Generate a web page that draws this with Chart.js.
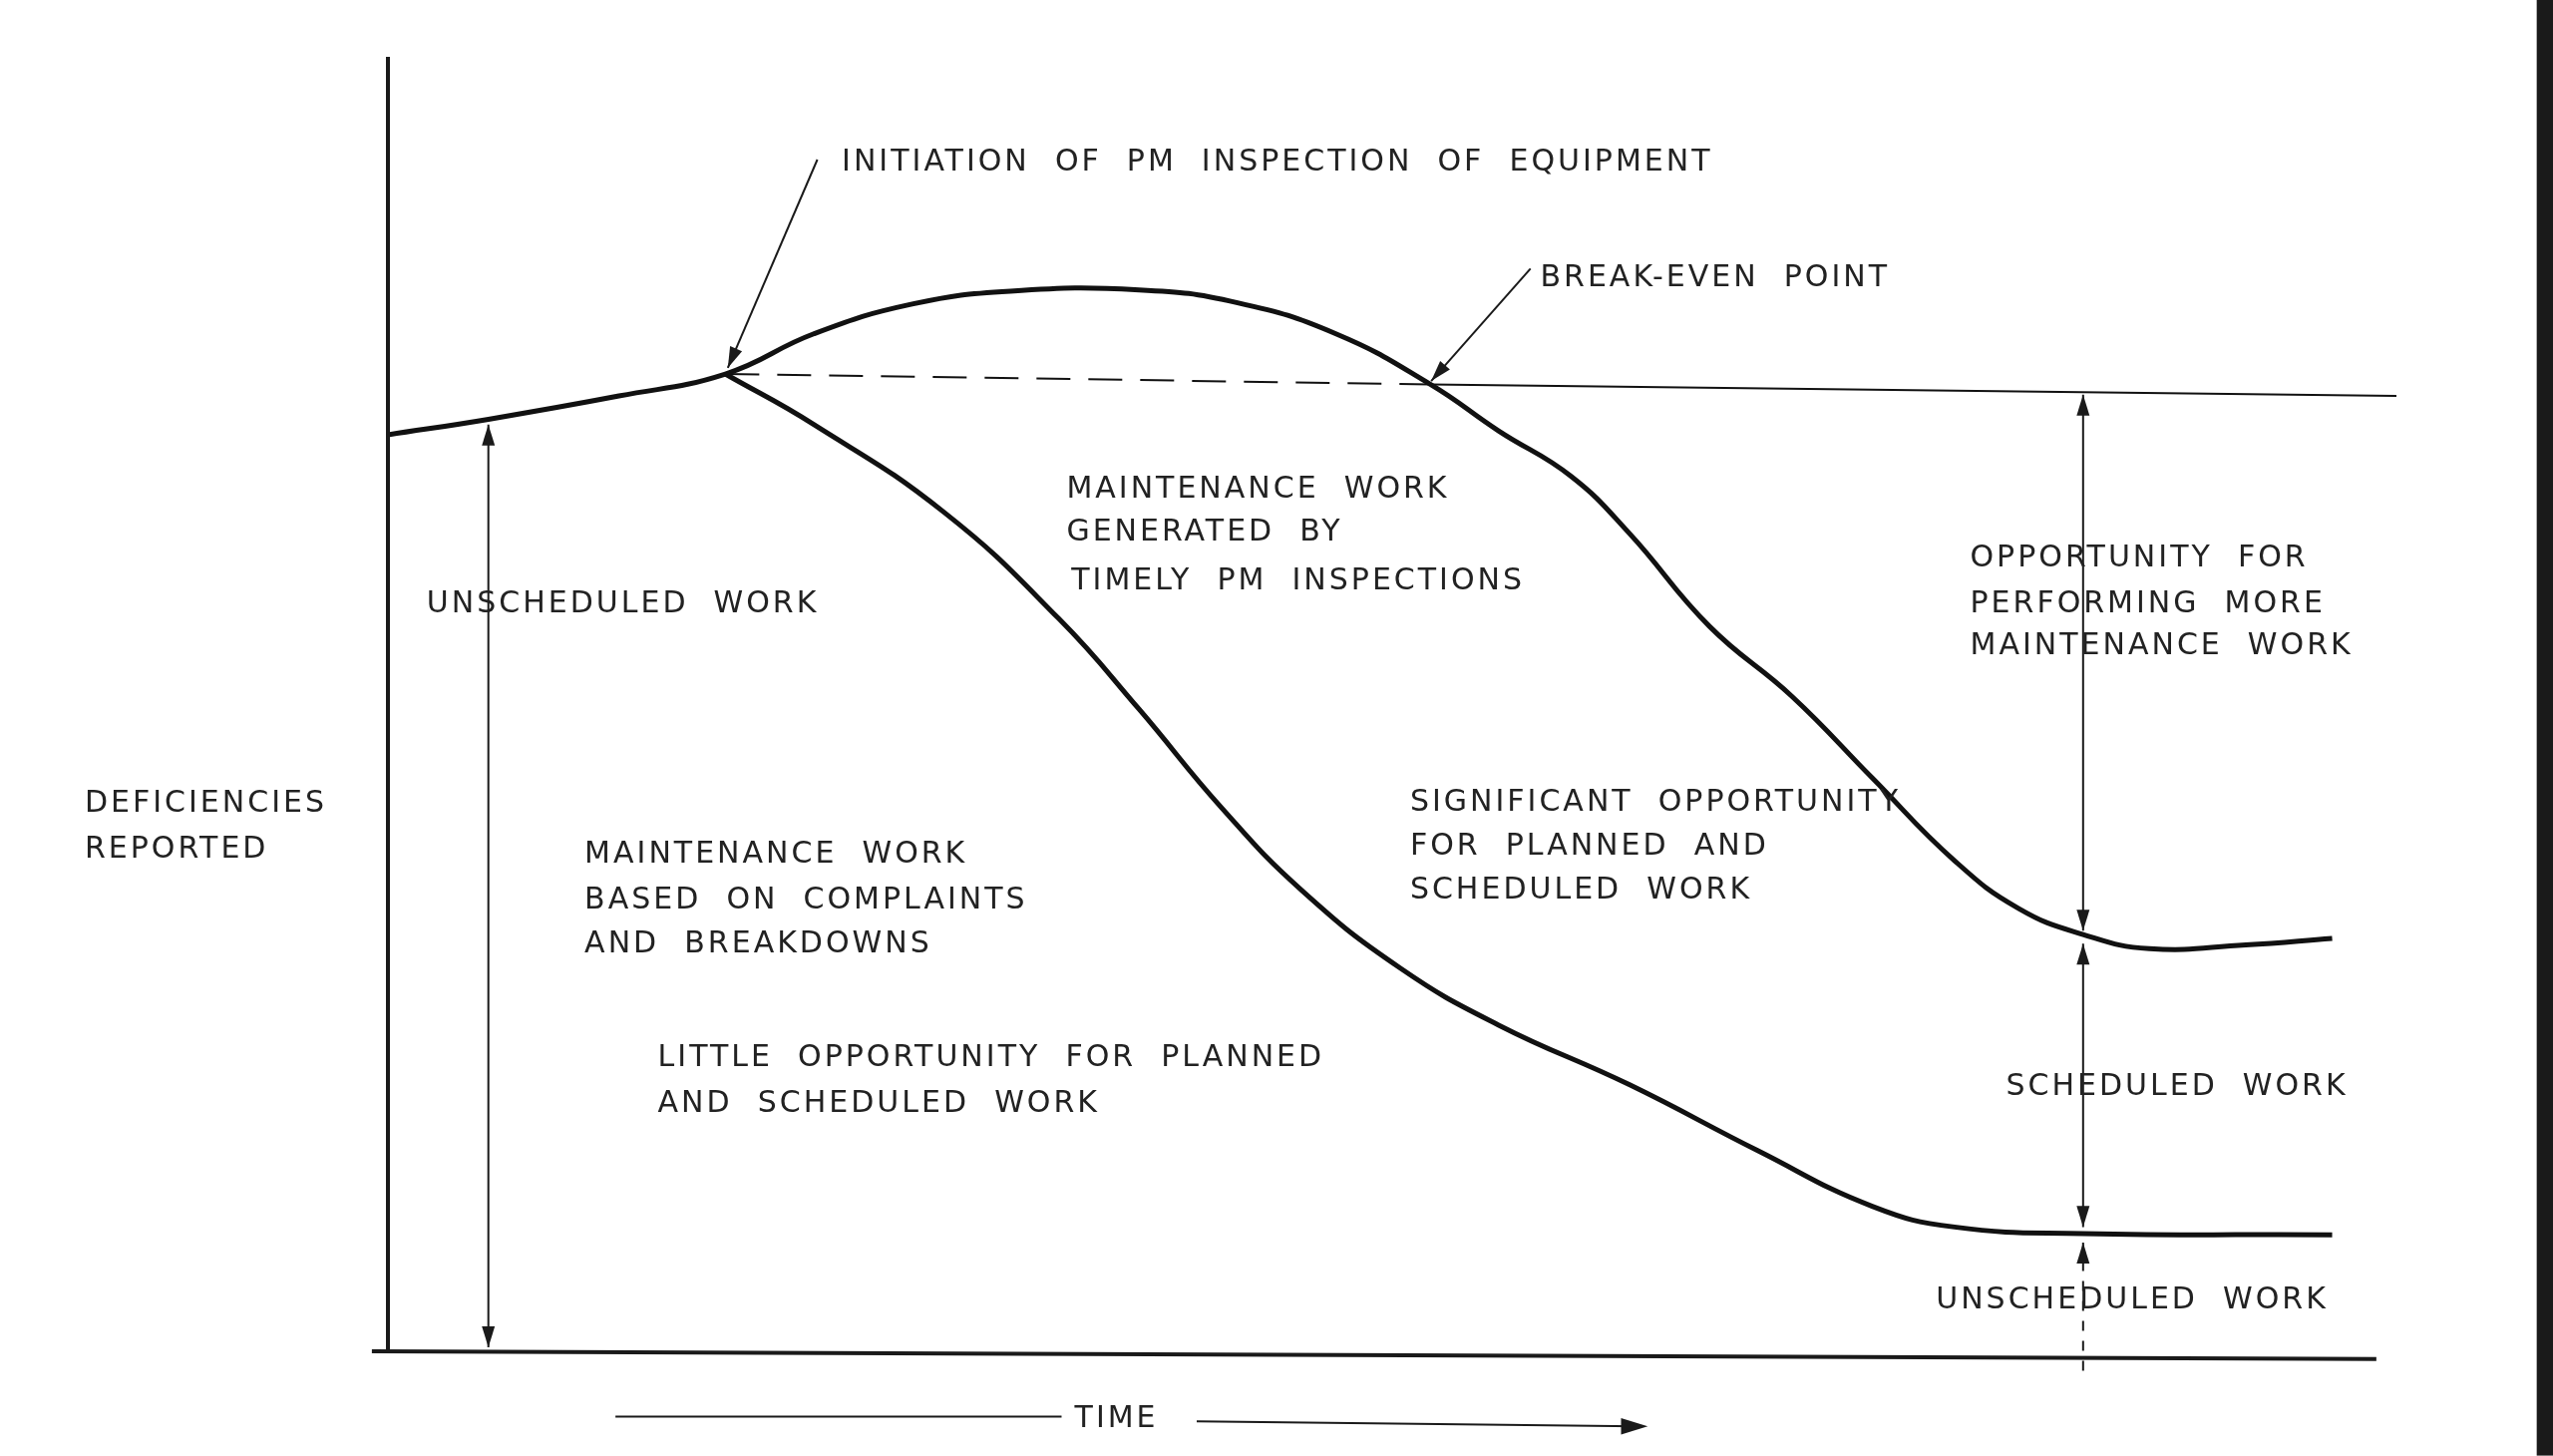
<!DOCTYPE html>
<html>
<head>
<meta charset="utf-8">
<script src="https://cdn.jsdelivr.net/npm/chart.js@4"></script>
<style>
  html, body { margin: 0; padding: 0; background: #fff; }
  #wrap { width: 2560px; height: 1460px; }
</style>
</head>
<body>
<div id="wrap"><canvas id="c"></canvas></div>
<script>
"use strict";

// curve values (x = time 0..100, y = deficiencies 0..100)
const upperX = [0, 5.0, 11.5, 16.8, 21.2, 26.1, 31.0, 37.4, 42.3, 47.2, 51.9, 55.3, 58.9, 61.8, 65.8, 69.9, 73.9, 78.0, 81.2, 84.4, 87.7, 92.5, 96.8];
const upperY = [70.8, 72.0, 73.8, 75.5, 78.6, 80.9, 81.9, 82.0, 81.0, 78.6, 74.7, 71.1, 67.6, 63.2, 56.0, 50.6, 44.3, 37.9, 34.2, 32.2, 31.1, 31.4, 31.9];
const lowerX = [16.8, 21.2, 27.7, 33.4, 37.4, 41.5, 45.5, 50.4, 55.3, 61.8, 68.2, 73.9, 78.0, 84.4, 96.8];
const lowerY = [75.5, 71.6, 64.8, 56.6, 49.6, 42.0, 35.6, 29.6, 25.2, 20.6, 15.5, 11.2, 9.6, 9.1, 9.0];
const dashX = [16.8, 51.9];
const dashY = [75.5, 74.7];
const levelX = [51.9, 100];
const levelY = [74.7, 73.8];

const S = 2560 / 1568; // reference sketch px -> canvas px

const labels = [
  ["INITIATION  OF  PM  INSPECTION  OF  EQUIPMENT", 517, 100],
  ["BREAK-EVEN  POINT", 946, 171],
  ["MAINTENANCE  WORK", 655, 301],
  ["GENERATED  BY", 655, 327],
  ["TIMELY  PM  INSPECTIONS", 658, 357],
  ["UNSCHEDULED  WORK", 262, 371],
  ["OPPORTUNITY  FOR", 1210, 343],
  ["PERFORMING  MORE", 1210, 371],
  ["MAINTENANCE  WORK", 1210, 397],
  ["DEFICIENCIES", 52, 494],
  ["REPORTED", 52, 522],
  ["SIGNIFICANT  OPPORTUNITY", 866, 493],
  ["FOR  PLANNED  AND", 866, 520],
  ["SCHEDULED  WORK", 866, 547],
  ["MAINTENANCE  WORK", 359, 525],
  ["BASED  ON  COMPLAINTS", 359, 553],
  ["AND  BREAKDOWNS", 359, 580],
  ["LITTLE  OPPORTUNITY  FOR  PLANNED", 404, 650],
  ["AND  SCHEDULED  WORK", 404, 678],
  ["SCHEDULED  WORK", 1232, 668],
  ["UNSCHEDULED  WORK", 1189, 799],
  ["TIME", 660, 872]
];

const pts = (xs, ys) => xs.map((x, i) => ({ x, y: ys[i] }));

function arrowHead(ctx, x1, y1, x2, y2, size) {
  const a = Math.atan2(y2 - y1, x2 - x1);
  ctx.beginPath();
  ctx.moveTo(x2, y2);
  ctx.lineTo(x2 - size * Math.cos(a - 0.3), y2 - size * Math.sin(a - 0.3));
  ctx.lineTo(x2 - size * Math.cos(a + 0.3), y2 - size * Math.sin(a + 0.3));
  ctx.closePath();
  ctx.fill();
}

function arrow(ctx, x1, y1, x2, y2, both, dashed) {
  ctx.save();
  ctx.setLineDash(dashed ? [10, 10] : []);
  ctx.beginPath();
  ctx.moveTo(x1, y1);
  ctx.lineTo(x2, y2);
  ctx.stroke();
  ctx.restore();
  arrowHead(ctx, x1, y1, x2, y2, 22);
  if (both) arrowHead(ctx, x2, y2, x1, y1, 22);
}

const sketch = {
  id: "sketch",
  afterDraw(chart) {
    const ctx = chart.ctx;
    const xs = chart.scales.x, ys = chart.scales.y;
    const X = (v) => xs.getPixelForValue(v);
    const Y = (v) => ys.getPixelForValue(v);
    ctx.save();
    ctx.strokeStyle = "#1a1a1a";
    ctx.fillStyle = "#1a1a1a";

    // axes
    ctx.lineWidth = 4;
    ctx.beginPath();
    ctx.moveTo(X(0), Y(100));
    ctx.lineTo(X(0), Y(0));
    ctx.moveTo(X(-0.8), Y(0));
    ctx.lineTo(X(99), Y(-0.6));
    ctx.stroke();

    // dimension arrows
    ctx.lineWidth = 2;
    arrow(ctx, X(5.0), Y(71.6), X(5.0), Y(0.3), true);
    arrow(ctx, X(84.4), Y(73.9), X(84.4), Y(32.5), true);
    arrow(ctx, X(84.4), Y(31.5), X(84.4), Y(9.6), true);
    arrow(ctx, X(84.4), Y(-1.5), X(84.4), Y(8.4), false, true);

    // leader arrows
    arrow(ctx, 502 * S, 98 * S, 447 * S, 226 * S);
    arrow(ctx, 940 * S, 165 * S, 879 * S, 234 * S);

    // time arrow
    ctx.lineWidth = 2;
    ctx.beginPath();
    ctx.moveTo(378 * S, 870 * S);
    ctx.lineTo(652 * S, 870 * S);
    ctx.moveTo(735 * S, 873 * S);
    ctx.lineTo(1005 * S, 876 * S);
    ctx.stroke();
    arrowHead(ctx, 975 * S, 876 * S, 1012 * S, 876 * S, 28);

    // right frame edge
    ctx.fillRect(1558 * S, 0, 10 * S, 894 * S);

    // labels
    ctx.font = "30px 'DejaVu Sans'";
    ctx.letterSpacing = "3px";
    ctx.textBaseline = "middle";
    ctx.fillStyle = "#222";
    labels.forEach(([t, x, y]) => ctx.fillText(t, x * S, y * S));
    ctx.restore();
  }
};

const line = (data, extra) => Object.assign({
  data, borderColor: "#111", borderWidth: 5, pointRadius: 0,
  tension: 0.45, fill: false
}, extra);

new Chart(document.getElementById("c"), {
  type: "line",
  data: {
    datasets: [
      line(pts(upperX, upperY)),
      line(pts(lowerX, lowerY)),
      line(pts(dashX, dashY), { borderWidth: 2, borderDash: [34, 18], tension: 0 }),
      line(pts(levelX, levelY), { borderWidth: 2, tension: 0 })
    ]
  },
  options: {
    responsive: true,
    maintainAspectRatio: false,
    animation: false,
    layout: { padding: { left: 389, right: 157, top: 57, bottom: 105 } },
    plugins: { legend: { display: false }, tooltip: { enabled: false } },
    scales: {
      x: { type: "linear", min: 0, max: 100, display: false },
      y: { min: 0, max: 100, display: false }
    }
  },
  plugins: [sketch]
});
</script>
</body>
</html>
